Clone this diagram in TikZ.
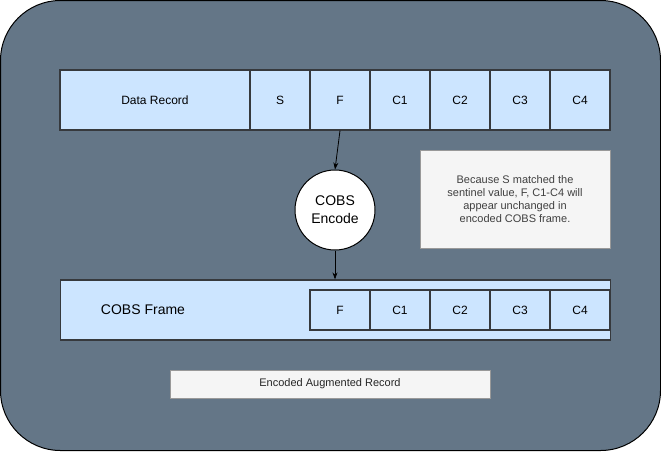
\documentclass[tikz,border=0pt]{standalone}
\usepackage{fontspec}
\setmainfont{Liberation Sans}
\usetikzlibrary{arrows.meta,positioning}
\definecolor{slate}{HTML}{647687}
\definecolor{cellblue}{HTML}{CCE5FF}
\definecolor{notegray}{HTML}{F5F5F5}
\definecolor{edgegray}{HTML}{36393D}

\begin{document}
\begin{tikzpicture}[
    x=1pt, y=-1pt,
    cell/.style={rectangle, draw=edgegray, line width=1.2pt, fill=cellblue, minimum width=60pt, minimum height=60pt, inner sep=0pt, font=\fontsize{12}{14}\selectfont},
    small cell/.style={cell, minimum height=40pt},
    note/.style={rectangle, draw=gray!80, line width=1pt, fill=notegray, align=center, text=black!75, inner sep=0pt, font=\fontsize{11}{13}\selectfont},
    arrow/.style={-{Stealth[length=7pt,width=5pt]}, line width=0.8pt},
]
    % Background
    \path[use as bounding box] (0,0) rectangle (661,451);
    \draw[fill=slate, line width=1pt, rounded corners=60pt] (0.5,0.5) rectangle (660.5,450.5);

    % Data record row
    \node[cell, minimum width=190pt] (record) at (155,100) {Data Record};
    \node[cell] (s) at (280,100) {S};
    \node[cell] (f) at (340,100) {F};
    \node[cell] (c1) at (400,100) {C1};
    \node[cell] (c2) at (460,100) {C2};
    \node[cell] (c3) at (520,100) {C3};
    \node[cell] (c4) at (580,100) {C4};

    % Encoder
    \node[circle, draw=black, fill=white, line width=1pt, minimum size=80pt, inner sep=0pt, align=center, font=\fontsize{14}{18}\selectfont] (encode) at (335,210) {COBS\\Encode};

    % Note
    \node[note, minimum width=190pt, minimum height=98pt] (explain) at (515,199) {Because S matched the\\sentinel value, F, C1-C4 will\\appear unchanged in\\encoded COBS frame.};

    % COBS frame row
    \node[cell, minimum width=550pt, anchor=west] (frame) at (60,310) {};
    \node[font=\fontsize{14}{16}\selectfont] (framelabel) at (143,310) {COBS Frame};
    \node[small cell] (ff) at (340,310) {F};
    \node[small cell] (fc1) at (400,310) {C1};
    \node[small cell] (fc2) at (460,310) {C2};
    \node[small cell] (fc3) at (520,310) {C3};
    \node[small cell] (fc4) at (580,310) {C4};

    % Caption
    \node[note, minimum width=320pt, minimum height=28pt, text=black!85] (caption) at (330,384) {Encoded Augmented Record};

    % Arrows
    \draw[arrow] (f.south) -- (encode.north);
    \draw[arrow] (encode.south) -- (encode.south |- frame.north);
\end{tikzpicture}
\end{document}
